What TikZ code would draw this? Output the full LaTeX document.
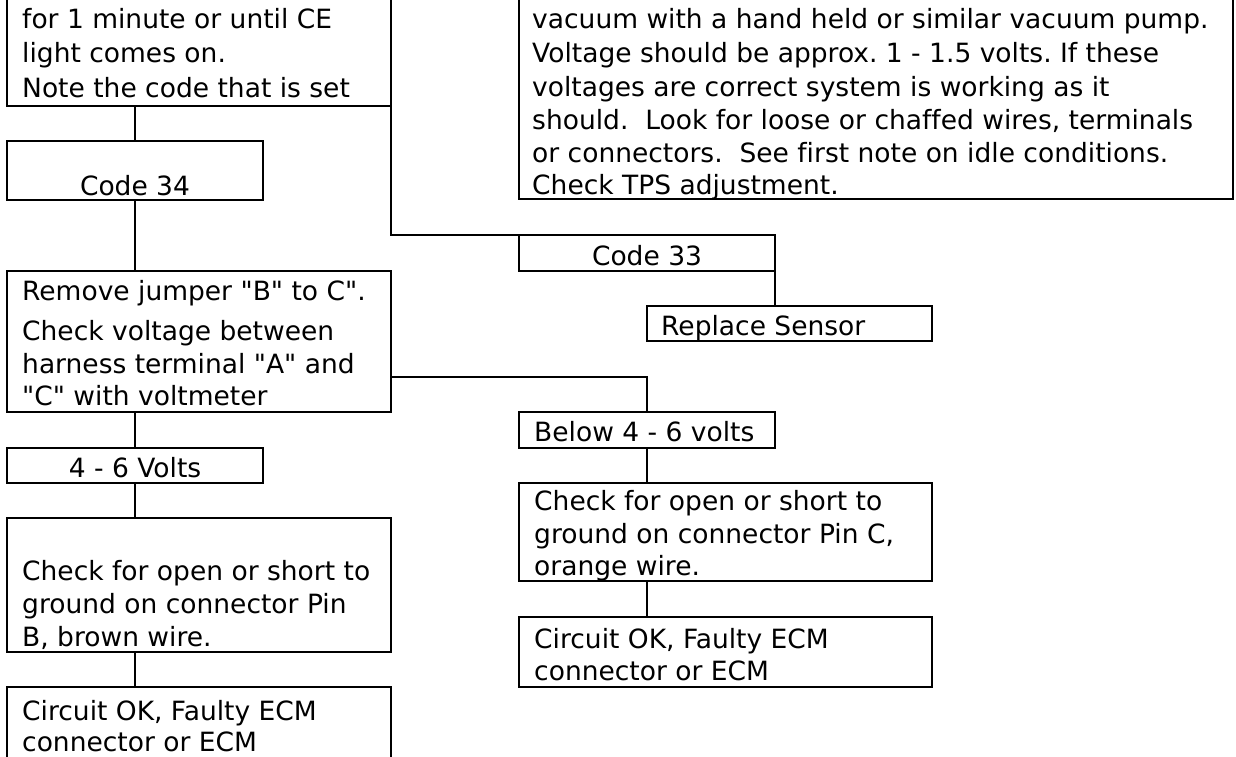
\documentclass[tikz,border=0pt]{standalone}
\usepackage{fontspec}
\setmainfont{DejaVu Sans}[Ligatures={TeXOff,NoCommon}]
\usetikzlibrary{calc}
\frenchspacing
\tikzset{
  box/.style={draw, line width=2pt, rectangle, inner sep=0pt, outer sep=0pt, anchor=north west},
  wire/.style={line width=2pt},
  txt/.style={inner sep=0pt, anchor=base west, font=\fontsize{26.5pt}{32pt}\selectfont},
  ctxt/.style={txt, anchor=base},
}
\begin{document}
\begin{tikzpicture}[x=1pt, y=-1pt]
\useasboundingbox (0,0) rectangle (1236,757);
\clip (0,0) rectangle (1236,757);

% flowchart boxes (top edges of the first two and bottom of the last run off the page)
\node[box, minimum width=384, minimum height=116] (A) at (7,-10) {};
\node[box, minimum width=714, minimum height=209] (R) at (519,-10) {};
\node[box, minimum width=256, minimum height=59] (code34) at (7,141) {};
\node[box, minimum width=256, minimum height=36] (code33) at (519,235) {};
\node[box, minimum width=285, minimum height=35] (replace) at (647,306) {};
\node[box, minimum width=384, minimum height=141] (remove) at (7,271) {};
\node[box, minimum width=256, minimum height=36] (below) at (519,412) {};
\node[box, minimum width=256, minimum height=35] (volts) at (7,448) {};
\node[box, minimum width=384, minimum height=134] (checkB) at (7,518) {};
\node[box, minimum width=384, minimum height=90] (okB) at (7,687) {};
\node[box, minimum width=413, minimum height=98] (checkC) at (519,483) {};
\node[box, minimum width=413, minimum height=70] (okC) at (519,617) {};

% connectors
\draw[wire] (code34.north |- A.south) -- (code34.north);
\draw[wire] (code34.south) -- (code34.south |- remove.north);
\draw[wire] (A.south east) |- (code33.north west);
\draw[wire] (code33.south east) -- (code33.south east |- replace.north);
\coordinate (tap) at ($(remove.south east)+(0,-35)$);
\draw[wire] (tap) -| (below.north);
\draw[wire] (volts.north |- remove.south) -- (volts.north);
\draw[wire] (volts.south) -- (volts.south |- checkB.north);
\draw[wire] (volts.south |- checkB.south) -- (volts.south |- okB.north);
\draw[wire] (below.south) -- (below.south |- checkC.north);
\draw[wire] (below.south |- checkC.south) -- (below.south |- okC.north);

% box texts
\node[txt] (a1) at (22,29) {for 1 minute or until CE};
\node[txt] (a2) at (22,63) {light comes on.};
\node[txt] (a3) at (22,98) {Note the code that is set};

\node[txt] (r1) at (532,29) {vacuum with a hand held or similar vacuum pump.};
\node[txt] (r2) at (532,63) {Voltage should be approx. 1 - 1.5 volts. If these};
\node[txt] (r3) at (532,97) {voltages are correct system is working as it};
\node[txt] (r4) at (532,130) {should.\ \ Look for loose or chaffed wires, terminals};
\node[txt] (r5) at (532,162) {or connectors.\ \ See first note on idle conditions.};
\node[txt] (r6) at (532,194) {Check TPS adjustment.};

\node[ctxt] (c34) at (135,195) {Code 34};
\node[ctxt] (c33) at (647,265) {Code 33};
\node[txt] (rs) at (661,335) {Replace Sensor};

\node[txt] (m1) at (22,300) {Remove jumper "B" to C".};
\node[txt] (m2) at (22,340) {Check voltage between};
\node[txt] (m3) at (22,373) {harness terminal "A" and};
\node[txt] (m4) at (22,405) {"C" with voltmeter};

\node[txt] (bl) at (534,441) {Below 4 - 6 volts};
\node[ctxt] (v46) at (135,477) {4 - 6 Volts};

\node[txt] (b1) at (22,580) {Check for open or short to};
\node[txt] (b2) at (22,613) {ground on connector Pin};
\node[txt] (b3) at (22,646) {B, brown wire.};

\node[txt] (ob1) at (22,720) {Circuit OK, Faulty ECM};
\node[txt] (ob2) at (22,751) {connector or ECM};

\node[txt] (cc1) at (534,510) {Check for open or short to};
\node[txt] (cc2) at (534,543) {ground on connector Pin C,};
\node[txt] (cc3) at (534,575) {orange wire.};

\node[txt] (oc1) at (534,648) {Circuit OK, Faulty ECM};
\node[txt] (oc2) at (534,680) {connector or ECM};
\end{tikzpicture}
\end{document}
